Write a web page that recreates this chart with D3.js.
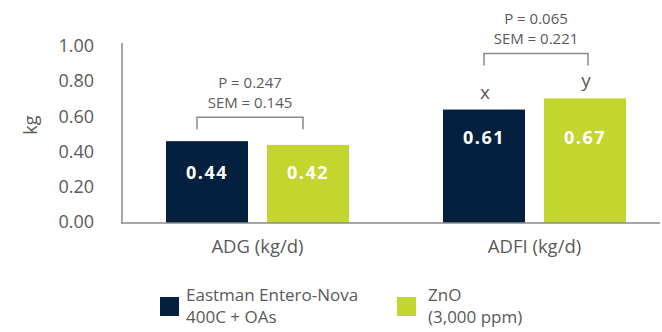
<!DOCTYPE html>
<html><head><meta charset="utf-8">
<script src="https://cdn.jsdelivr.net/npm/d3@7"></script>
<style>
html,body{margin:0;padding:0;background:#fff;}
svg{display:block;font-family:"Open Sans","Noto Sans",sans-serif;}
</style></head>
<body>
<svg id="chart" width="662" height="332"></svg>
<script>
const categories = ["ADG (kg/d)", "ADFI (kg/d)"];
const seriesNames = ["Eastman Entero-Nova 400C + OAs", "ZnO (3,000 ppm)"];
const seriesLegendLines = [["Eastman Entero-Nova", "400C + OAs"], ["ZnO", "(3,000 ppm)"]];
const enteroNova = [0.44, 0.61];
const zno = [0.42, 0.67];
const superscripts = [["", ""], ["x", "y"]];
const pValues = ["P = 0.247", "P = 0.065"];
const semValues = ["SEM = 0.145", "SEM = 0.221"];
const tickValues = [0, 0.2, 0.4, 0.6, 0.8, 1.0];
const colors = ["#03203f", "#c3d62f"];

const svg = d3.select("#chart");
const textColor = "#5a5a5a";

const yBar = d3.scaleLinear().domain([0, 1]).range([223, 37]);
const yTick = d3.scaleLinear().domain([0, 1]).range([222, 46]);
const x0 = d3.scaleBand().domain(categories).range([119, 673]).padding(0);
const x1 = d3.scaleBand().domain(seriesNames).range([0, 183]).paddingInner(0.188).paddingOuter(0);
const groupOffset = (x0.bandwidth() - 183) / 2;

const values = categories.map((c, i) => [enteroNova[i], zno[i]]);

// axis tick labels
const ax = svg.append("g").attr("transform", "translate(97,0)")
  .call(d3.axisLeft(yTick).tickValues(tickValues).tickSize(0).tickPadding(3).tickFormat(d3.format(".2f")));
ax.select(".domain").remove();
ax.selectAll("text").attr("font-size", 18).attr("fill", textColor).attr("font-family", "Open Sans, Noto Sans, sans-serif");

// y title
svg.append("text").attr("transform", "translate(37," + yTick(0.55) + ") rotate(-90)")
  .attr("text-anchor", "middle").attr("font-size", 18).attr("fill", textColor).text("kg");

// bars
categories.forEach((c, i) => {
  const g = svg.append("g").attr("transform", "translate(" + (x0(c) + groupOffset) + ",0)");
  values[i].forEach((v, j) => {
    g.append("rect").attr("x", x1(seriesNames[j])).attr("y", yBar(v))
      .attr("width", x1.bandwidth()).attr("height", yBar(0) - yBar(v)).attr("fill", colors[j]);
  });
  const labelY = yBar(d3.min(values[i])) + 27;
  values[i].forEach((v, j) => {
    g.append("text").attr("x", x1(seriesNames[j]) + x1.bandwidth() / 2).attr("y", labelY)
      .attr("text-anchor", "middle").attr("dominant-baseline", "central")
      .attr("font-size", 18).attr("font-weight", "bold").attr("letter-spacing", 1.5)
      .attr("fill", "#fff").text(d3.format(".2f")(v));
    if (superscripts[i][j]) {
      g.append("text").attr("x", x1(seriesNames[j]) + x1.bandwidth() / 2 + 1).attr("y", yBar(v) - 11)
        .attr("text-anchor", "middle").attr("font-size", 19).attr("fill", textColor)
        .text(superscripts[i][j]);
    }
  });
  // bracket
  const maxTop = yBar(d3.max(values[i]));
  const bTop = i === 0 ? maxTop - 24 : maxTop - 45;
  const bl = i === 0 ? x1(seriesNames[0]) + x1.bandwidth() / 2 - 10 : x1(seriesNames[0]) + x1.bandwidth() / 2;
  const br = i === 0 ? x1(seriesNames[1]) + x1.bandwidth() / 2 - 5 : x1(seriesNames[1]) + x1.bandwidth() / 2 + 3;
  g.append("path").attr("d", "M" + bl + "," + (bTop + 12) + "V" + bTop + "H" + br + "V" + (bTop + 12))
    .attr("fill", "none").attr("stroke", "#8a8a8a").attr("stroke-width", 1.5);
  const cx = (bl + br) / 2;
  g.append("text").attr("x", cx).attr("y", bTop - 35).attr("text-anchor", "middle")
    .attr("dominant-baseline", "central").attr("font-size", 15).attr("fill", textColor).text(pValues[i]);
  g.append("text").attr("x", cx).attr("y", bTop - 15).attr("text-anchor", "middle")
    .attr("dominant-baseline", "central").attr("font-size", 15).attr("fill", textColor).text(semValues[i]);
  // category label
  svg.append("text").attr("x", x0(c) + x0.bandwidth() / 2).attr("y", 245)
    .attr("text-anchor", "middle").attr("dominant-baseline", "central")
    .attr("font-size", 18.5).attr("fill", textColor).text(c);
});

// axes lines
svg.append("line").attr("x1", 122).attr("x2", 122).attr("y1", 43).attr("y2", yBar(0))
  .attr("stroke", "#8a8a8a").attr("stroke-width", 1.5);
svg.append("line").attr("x1", 121).attr("x2", 660).attr("y1", yBar(0)).attr("y2", yBar(0))
  .attr("stroke", "#8a8a8a").attr("stroke-width", 1.5);

// legend
const legendX = [160, 397];
seriesNames.forEach((s, j) => {
  const lg = svg.append("g").attr("transform", "translate(" + legendX[j] + ",297)");
  lg.append("rect").attr("width", 19).attr("height", 19).attr("fill", colors[j]);
  const t = lg.append("text").attr("font-size", 17).attr("fill", textColor);
  seriesLegendLines[j].forEach((line, k) => {
    t.append("tspan").attr("x", j === 0 ? 26 : 31).attr("y", 4 + k * 21.5).text(line);
  });
});
</script>
</body></html>
